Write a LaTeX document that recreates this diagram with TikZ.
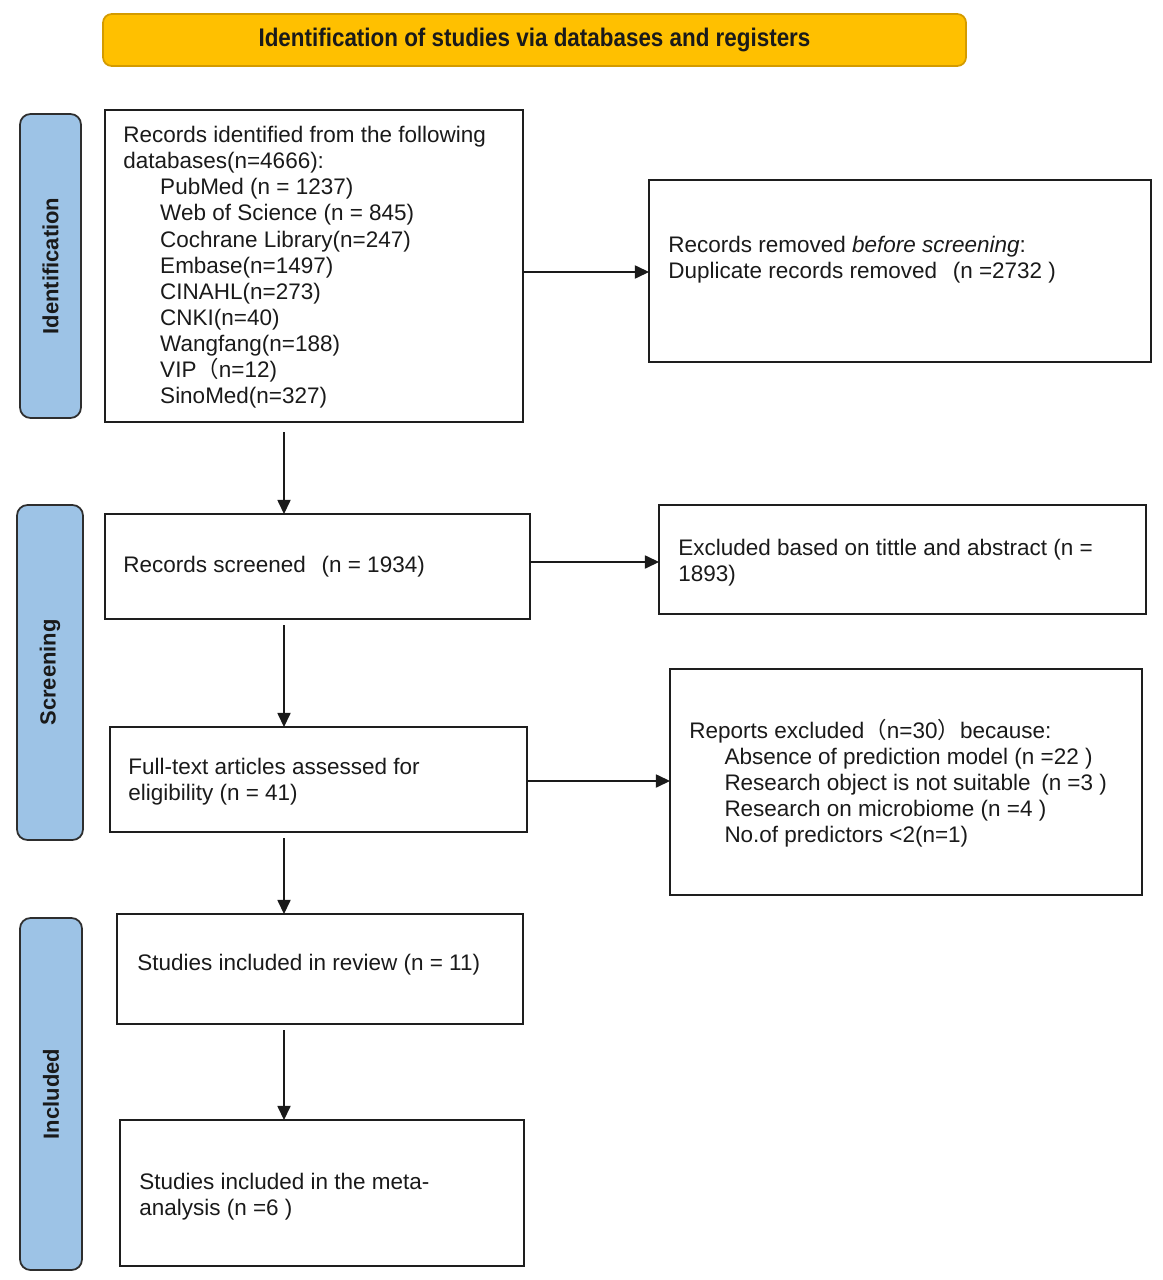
\documentclass[tikz,border=0pt]{standalone}
\usepackage{fontspec}
\setmainfont{Liberation Sans}
\newfontfamily\titlefont[FakeStretch=0.88]{Liberation Sans}
\newfontfamily\cjkfont{Noto Sans CJK SC}
\usetikzlibrary{arrows.meta,fit}
\definecolor{titlefill}{HTML}{FFC000}
\definecolor{titledraw}{HTML}{D49B00}
\definecolor{sidefill}{HTML}{9DC3E6}
\definecolor{sidedraw}{HTML}{2E2E2E}
\definecolor{boxdraw}{HTML}{1E1E1E}
\definecolor{txt}{HTML}{1A1A1A}
\tikzset{
  box/.style={draw=boxdraw, line width=1.1pt, inner sep=0pt, outer sep=0pt},
  titlebar/.style={draw=titledraw, fill=titlefill, line width=1pt, rounded corners=5pt, inner sep=0pt},
  sidebar/.style={draw=sidedraw, fill=sidefill, line width=1pt, rounded corners=6pt, inner sep=0pt},
  sidelabel/.style={rotate=90, font=\fontsize{12.5}{15}\selectfont\bfseries, text=txt},
  body/.style={font=\fontsize{12.8}{14.85}\selectfont, text=txt, inner sep=0pt, align=left},
  arr/.style={draw=txt, line width=0.7pt, -{Triangle[width=7.5pt,length=8pt]}}
}
\newcommand\fw[1]{{\cjkfont #1}}
\begin{document}
\begin{tikzpicture}[x=0.02cm,y=-0.02cm]
\useasboundingbox (0,0) rectangle (1162,1280);
% title
\node[titlebar, fit={(103,14) (966,66)}] (title) {};
\node[font=\titlefont\fontsize{14.5}{17}\selectfont\bfseries, text=txt] (titletext) at (title.center) {Identification of studies via databases and registers};
% side bars
\node[sidebar, fit={(20,114) (81,418)}] (s1) {};
\node[sidelabel] (s1t) at (s1.center) {Identification};
\node[sidebar, fit={(17,505) (83,840)}] (s2) {};
\node[sidelabel] (s2t) at (s2.center) {Screening};
\node[sidebar, fit={(20,918) (82,1270)}] (s3) {};
\node[sidelabel] (s3t) at (s3.center) {Included};
% boxes
\node[box, fit={(105,110) (523,422)}] (b1) {};
\node[box, fit={(649,180) (1151,362)}] (b2) {};
\node[box, fit={(105,514) (530,619)}] (b3) {};
\node[box, fit={(659,505) (1146,614)}] (b4) {};
\node[box, fit={(110,727) (527,832)}] (b5) {};
\node[box, fit={(670,669) (1142,895)}] (b6) {};
\node[box, fit={(117,914) (523,1024)}] (b7) {};
\node[box, fit={(120,1120) (524,1266)}] (b8) {};
% texts
\node[body, anchor=north west] (t1) at (123,126) {Records identified from the following\\
databases(n=4666):\\
\hspace*{21pt}PubMed (n = 1237)\\
\hspace*{21pt}Web of Science (n = 845)\\
\hspace*{21pt}Cochrane Library(n=247)\\
\hspace*{21pt}Embase(n=1497)\\
\hspace*{21pt}CINAHL(n=273)\\
\hspace*{21pt}CNKI(n=40)\\
\hspace*{21pt}Wangfang(n=188)\\
\hspace*{21pt}VIP\fw{（}n=12)\\
\hspace*{21pt}SinoMed(n=327)};
\node[body, anchor=north west] (t2) at (668,236) {Records removed \textit{before screening}:\\
Duplicate records removed\hspace{9pt}(n =2732 )};
\node[body, anchor=west] (t3) at (123,567) {Records screened\hspace{9pt}(n = 1934)};
\node[body, anchor=north west] (t4) at (678,539) {Excluded based on tittle and abstract (n =\\1893)};
\node[body, anchor=north west] (t5) at (128,758) {Full-text articles assessed for\\eligibility (n = 41)};
\node[body, anchor=north west] (t6) at (689,719) {Reports excluded\fw{（}n=30\fw{）}because:\\
\hspace*{20pt}Absence of prediction model (n =22 )\\
\hspace*{20pt}Research object is not suitable\hspace{6pt}(n =3 )\\
\hspace*{20pt}Research on microbiome (n =4 )\\
\hspace*{20pt}No.of predictors <2(n=1)};
\node[body, anchor=west] (t7) at (137,965) {Studies included in review (n = 11)};
\node[body, anchor=north west] (t8) at (139,1173) {Studies included in the meta-\\analysis (n =6 )};
% connectors
\coordinate (ax) at (284,0);
\draw[arr] (b1.east |- 0,272) -- (b2.west |- 0,272);
\draw[arr] (b3.east |- 0,562) -- (b4.west |- 0,562);
\draw[arr] (b5.east |- 0,781) -- (b6.west |- 0,781);
\draw[arr, shorten <=0.2cm] (b1.south -| ax) -- (b3.north -| ax);
\draw[arr, shorten <=0.12cm] (b3.south -| ax) -- (b5.north -| ax);
\draw[arr, shorten <=0.12cm] (b5.south -| ax) -- (b7.north -| ax);
\draw[arr, shorten <=0.12cm] (b7.south -| ax) -- (b8.north -| ax);
\end{tikzpicture}
\end{document}
